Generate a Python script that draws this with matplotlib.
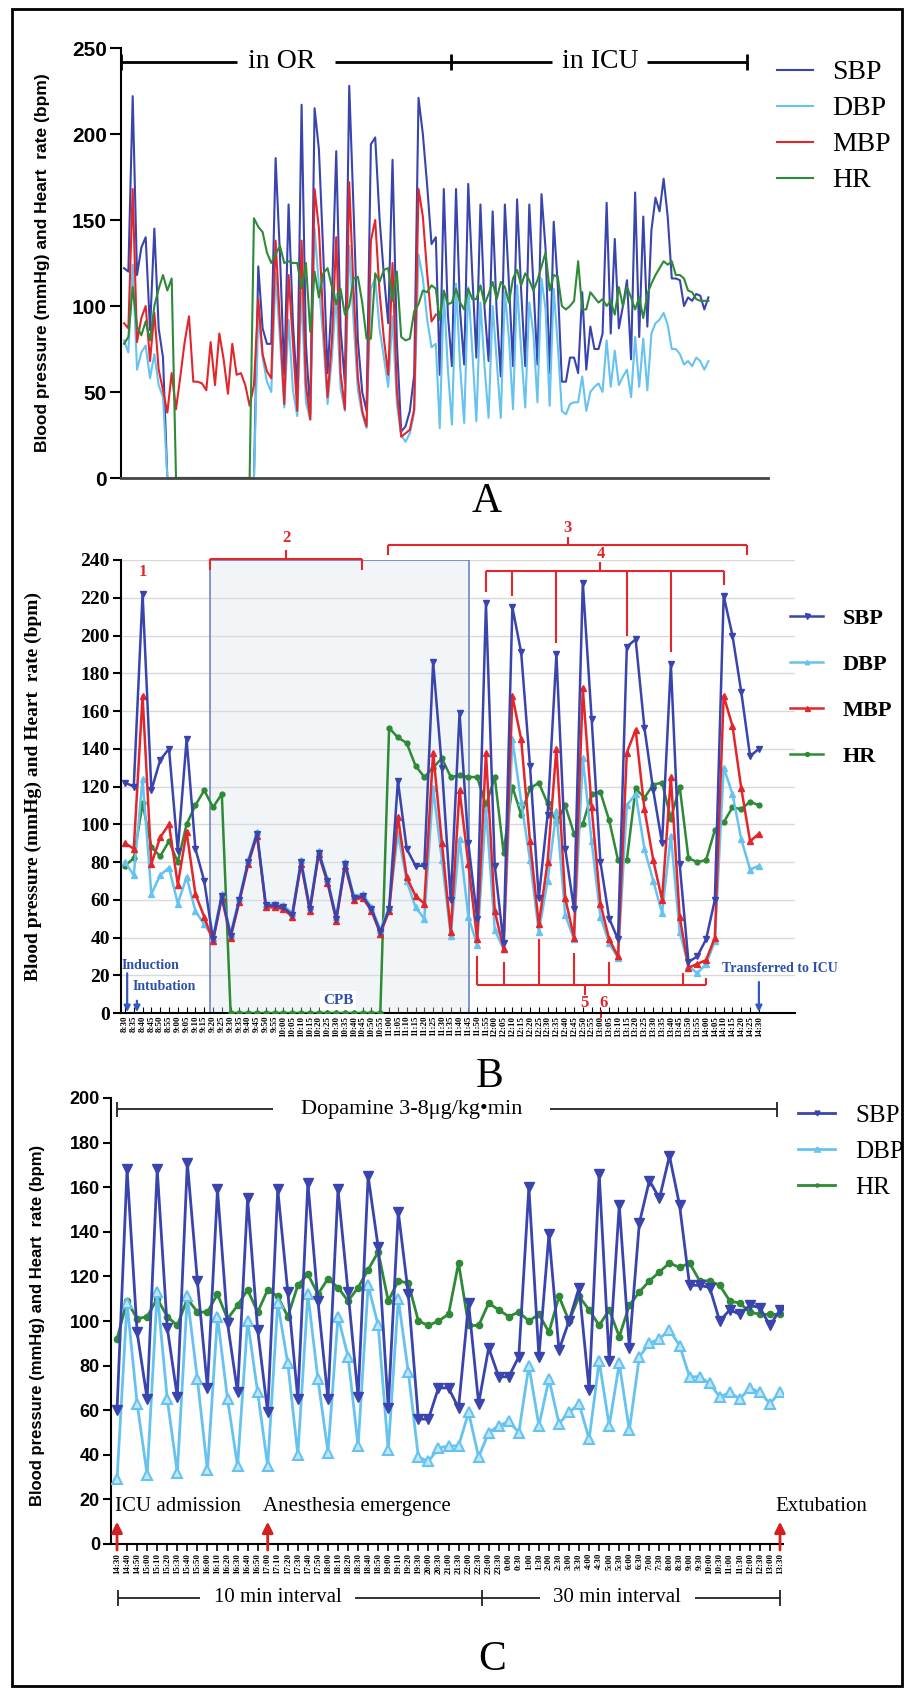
import numpy as np
import matplotlib
matplotlib.use('Agg')
import matplotlib.pyplot as plt
from matplotlib.patches import Rectangle

SERIF = 'Liberation Serif'
SANS = 'Liberation Sans'

C_SBP = '#3a44ad'
C_DBP = '#66c3ef'
C_MBP = '#e3262b'
C_HR = '#2e8a36'
C_NOTE = '#2d50a8'

# ---- panel B: in the operating room, every 5 min from 8:30 to 14:30
times_B = ['%d:%02d' % divmod(m, 60) for m in range(8 * 60 + 30, 14 * 60 + 31, 5)]
sbp_B = [122, 120, 222, 118, 134, 140, 86, 145, 87, 70,
         39, 62, 41, 60, 80, 95, 57, 57, 56, 52,
         80, 55, 85, 70, 50, 79, 61, 62, 55, 43,
         55, 123, 87, 78, 78, 186, 130, 60, 159, 90,
         50, 217, 78, 37, 215, 191, 131, 61, 105, 190,
         87, 55, 228, 156, 80, 50, 39, 194, 198, 151,
         118, 90, 185, 79, 27, 30, 39, 60, 221, 200,
         170, 136, 140]
mbp_B = [90, 87, 168, 79, 93, 100, 68, 96, 63, 51,
         38, 61, 40, 59, 79, 94, 56, 56, 55, 51,
         79, 54, 84, 69, 49, 78, 60, 61, 54, 42,
         54, 104, 72, 62, 58, 138, 90, 43, 118, 79,
         39, 138, 54, 34, 168, 145, 91, 47, 80, 140,
         61, 40, 172, 109, 58, 39, 30, 138, 150, 108,
         81, 60, 125, 51, 24, 26, 28, 40, 168, 152,
         119, 91, 95]
dbp_B = [80, 73, 124, 63, 73, 77, 58, 72, 54, 47,
         40, 63, 42, 61, 81, 96, 58, 58, 57, 53,
         81, 56, 86, 71, 51, 80, 62, 63, 56, 44,
         56, 95, 70, 56, 50, 119, 81, 41, 92, 51,
         36, 108, 44, 34, 145, 112, 81, 43, 70, 107,
         52, 39, 135, 91, 51, 37, 29, 110, 116, 87,
         70, 53, 94, 43, 25, 21, 26, 38, 130, 116,
         92, 76, 78]
hr_B = [78, 82, 111, 88, 83, 91, 80, 100, 110, 118,
        109, 116, 0, 0, 0, 0, 0, 0, 0, 0,
        0, 0, 0, 0, 0, 0, 0, 0, 0, 0,
        151, 146, 143, 131, 125, 130, 135, 125, 126, 125,
        125, 110, 125, 85, 120, 105, 119, 122, 111, 101,
        110, 95, 100, 116, 117, 102, 81, 81, 119, 114,
        121, 122, 103, 120, 82, 80, 81, 97, 101, 109,
        108, 112, 110]

# ---- panel C: in the ICU, 10 min then 30 min intervals
times_C = (['%d:%02d' % divmod(m, 60) for m in range(14 * 60 + 30, 19 * 60 + 31, 10)] +
           ['%d:%02d' % divmod(m % 1440, 60) for m in range(20 * 60, 37 * 60 + 31, 30)])
sbp_C = [60, 168, 95, 65, 168, 97, 66, 171, 118, 70,
         159, 99, 68, 155, 96, 59, 159, 113, 65, 162,
         109, 65, 159, 113, 66, 165, 133, 61, 149, 112,
         56, 56, 70, 70, 61, 108, 63, 88, 75, 75,
         84, 160, 84, 139, 87, 100, 115, 69, 166, 82,
         152, 88, 144, 163, 155, 174, 152, 116, 116, 115,
         100, 105, 103, 107, 106, 98, 105]
dbp_C = [29, 108, 63, 31, 113, 65, 32, 111, 74, 33,
         102, 65, 35, 100, 68, 35, 108, 81, 40, 112,
         74, 41, 102, 84, 44, 116, 98, 42, 110, 77,
         39, 37, 43, 44, 44, 59, 39, 50, 53, 55,
         50, 80, 53, 74, 54, 59, 63, 47, 82, 53,
         81, 51, 84, 90, 92, 96, 89, 75, 75, 72,
         66, 68, 65, 70, 68, 63, 68]
hr_C = [92, 109, 101, 102, 110, 102, 98, 110, 104, 104,
        112, 101, 107, 114, 104, 114, 111, 102, 116, 121,
        112, 119, 115, 109, 115, 123, 131, 109, 118, 117,
        100, 98, 100, 103, 126, 98, 98, 108, 105, 102,
        104, 100, 103, 95, 111, 100, 111, 105, 98, 105,
        93, 107, 113, 118, 122, 126, 124, 126, 118, 118,
        116, 109, 108, 104, 103, 103, 103]

# ---- panel A: whole course; SBP/DBP read 0 on bypass (non-pulsatile)
cpb = slice(10, 31)
sbp_or = np.array(sbp_B, float)
sbp_or[cpb] = 0
dbp_or = np.array(dbp_B, float)
dbp_or[cpb] = 0
sbp_A = np.concatenate([sbp_or, sbp_C])
dbp_A = np.concatenate([dbp_or, dbp_C])
mbp_A = np.concatenate([mbp_B, np.full(len(sbp_C), np.nan)])
hr_A = np.concatenate([hr_B, hr_C])
icu_step = 0.94   # ICU samples sit a little closer together in panel A
xA = np.concatenate([np.arange(len(sbp_B)), len(sbp_B) - 0.1 + icu_step * np.arange(len(sbp_C))])


def bold_ticks(ax, family, size, which='y'):
    labels = ax.get_yticklabels() if which == 'y' else ax.get_xticklabels()
    for t in labels:
        t.set_fontfamily(family)
        t.set_fontweight('bold')
        t.set_fontsize(size)


def seg(ax, x0, x1, y0, y1, color='black', lw=1.5):
    ax.plot([x0, x1], [y0, y1], color=color, lw=lw, clip_on=False, solid_capstyle='butt')


W, H = 907, 1689
fig = plt.figure(figsize=(W / 100, H / 100), dpi=100)
fig.add_artist(Rectangle((12 / W, 1 - 1686 / H), 890 / W, 1677 / H, transform=fig.transFigure,
                         fill=False, lw=2, ec='black'))

# =================== A ===================
axA = fig.add_axes([121 / W, 1 - 478 / H, 647 / W, 430 / H])
axA.plot(xA, sbp_A, color=C_SBP, lw=1.5, label='SBP')
axA.plot(xA, dbp_A, color=C_DBP, lw=1.5, label='DBP')
axA.plot(xA, mbp_A, color=C_MBP, lw=1.5, label='MBP')
axA.plot(xA, hr_A, color=C_HR, lw=1.5, label='HR')
axA.set_xlim(-0.7, 148.7)
axA.set_ylim(0, 250)
axA.set_yticks(range(0, 251, 50))
axA.set_xticks([])
for s in ['top', 'right']:
    axA.spines[s].set_visible(False)
axA.spines['left'].set_linewidth(1.5)
axA.spines['bottom'].set_linewidth(2)
axA.spines['bottom'].set_color('#444444')
axA.tick_params(axis='y', length=8, width=1.5, pad=2)
bold_ticks(axA, SANS, 15)
axA.set_ylabel('Blood pressure (mmHg) and Heart  rate (bpm)', fontfamily=SANS,
               fontweight='bold', fontsize=12.5)
axA.yaxis.set_label_coords(-0.11, 0.5)
axA.legend(loc='upper left', bbox_to_anchor=(777 / W, 1 - 60 / H), bbox_transform=fig.transFigure,
           frameon=False, prop={'family': SERIF, 'size': 20}, handlelength=1.3,
           handletextpad=0.68, labelspacing=0.38, borderpad=0, borderaxespad=0)
# in OR / in ICU bar
yb, d = 242, 4.6
for x0, x1 in [(-0.7, 26.1), (48.7, 98.8), (120.8, 143.9)]:
    seg(axA, x0, x1, yb, yb, lw=2)
for xt in [-0.7, 75.5, 143.9]:
    seg(axA, xt, xt, yb - d, yb + d, lw=2)
axA.text(36.5, yb, 'in OR', family=SERIF, fontsize=20, ha='center', va='center')
axA.text(109.9, yb, 'in ICU', family=SERIF, fontsize=20, ha='center', va='center')
fig.text(487 / W, 1 - 502 / H, 'A', family=SERIF, fontsize=30, ha='center', va='center')

# =================== B ===================
axB = fig.add_axes([121 / W, 1 - 1013 / H, 674 / W, 453 / H])
xB = np.arange(len(sbp_B))
axB.yaxis.grid(True, color='#d9d9d9', lw=1)
axB.set_axisbelow(True)
axB.add_patch(Rectangle((9.66, 0), 39.1 - 9.66, 240, facecolor=(0.86, 0.89, 0.93, 0.35),
                        edgecolor='#6f86c2', lw=1.2, zorder=1))
axB.plot(xB, hr_B, color=C_HR, lw=1.8, marker='o', ms=3.5, label='HR', zorder=3)
axB.plot(xB, dbp_B, color=C_DBP, lw=1.8, marker='^', ms=4, label='DBP', zorder=4)
axB.plot(xB, mbp_B, color=C_MBP, lw=1.8, marker='^', ms=4.5, label='MBP', zorder=5)
axB.plot(xB, sbp_B, color=C_SBP, lw=1.8, marker='v', ms=4.5, label='SBP', zorder=6)
axB.set_xlim(-0.45, 76.1)
axB.set_ylim(0, 240)
axB.set_yticks(range(0, 241, 20))
axB.set_xticks(xB)
axB.set_xticklabels(times_B, rotation=90)
bold_ticks(axB, SERIF, 6.5, 'x')
bold_ticks(axB, SERIF, 14)
axB.tick_params(axis='x', direction='in', length=4, pad=2)
axB.tick_params(axis='y', length=6, width=1.5, pad=2)
for s in ['top', 'right']:
    axB.spines[s].set_visible(False)
axB.spines['left'].set_linewidth(1.5)
axB.spines['bottom'].set_linewidth(1.5)
axB.set_ylabel('Blood pressure (mmHg) and Heart  rate (bpm)', fontfamily=SERIF,
               fontweight='bold', fontsize=14)
axB.yaxis.set_label_coords(-0.117, 0.5)
hB, lB = axB.get_legend_handles_labels()
order = [3, 1, 2, 0]
axB.legend([hB[i] for i in order], [lB[i] for i in order], loc='upper left',
           bbox_to_anchor=(790 / W, 1 - 608 / H), bbox_transform=fig.transFigure,
           frameon=False, prop={'family': SERIF, 'size': 16, 'weight': 'bold'},
           handlelength=1.5, handletextpad=0.86, labelspacing=1.15, borderpad=0,
           borderaxespad=0, numpoints=1, markerscale=0.8)

red = dict(color=C_MBP, lw=1.5)
rtxt = dict(family=SERIF, fontsize=12, fontweight='bold', color=C_MBP, ha='center', va='center')
axB.text(2.05, 233.6, '1', **rtxt)
# bracket 2 (bypass)
seg(axB, 9.66, 26.9, 240.5, 240.5, **red)
seg(axB, 9.66, 9.66, 240.5, 234.7, **red)
seg(axB, 26.9, 26.9, 240.5, 234.7, **red)
seg(axB, 18.3, 18.3, 240.5, 245.3, **red)
axB.text(18.3, 251.6, '2', **rtxt)
# bracket 3
seg(axB, 29.9, 70.7, 248, 248, **red)
seg(axB, 29.9, 29.9, 248, 242.6, **red)
seg(axB, 70.7, 70.7, 248, 242.6, **red)
seg(axB, 50.3, 50.3, 248, 252, **red)
axB.text(50.3, 257, '3', **rtxt)
# bracket 4: hypertensive peaks
peaks = [41, 44, 49, 52, 57, 62, 68]
seg(axB, peaks[0], peaks[-1], 234.2, 234.2, **red)
for p in peaks:
    seg(axB, p, p, 234.2, sbp_B[p] + 6, **red)
seg(axB, 54, 54, 234.2, 239, **red)
axB.text(54, 243, '4', **rtxt)
# bracket 5: hypotensive troughs
troughs = [(40, 30), (43, 27), (47, 39), (51, 32), (55, 27), (63.4, 21), (66, 18.5)]
seg(axB, troughs[0][0], troughs[-1][0], 14.8, 14.8, **red)
for p, top in troughs:
    seg(axB, p, p, 14.8, top, **red)
seg(axB, 52.2, 52.2, 14.8, 9.5, **red)
axB.text(52.2, 5.5, '5', **rtxt)
axB.text(54.4, 5.5, '6', **rtxt)
seg(axB, 54.1, 54.1, 1.5, -2.6, **red)

ntxt = dict(family=SERIF, fontweight='bold', color=C_NOTE, fontsize=10)
axB.text(24.2, 6.5, 'CPB', ha='center', va='center', fontsize=11, family=SERIF,
         fontweight='bold', color=C_NOTE,
         bbox=dict(facecolor='white', edgecolor='none', pad=2))
axB.text(-0.34, 25.4, 'Induction', ha='left', va='center', **ntxt)
axB.text(0.9, 13.8, 'Intubation', ha='left', va='center', **ntxt)
axB.text(74.4, 23.8, 'Transferred to ICU', ha='center', va='center', **ntxt)
arr = dict(arrowstyle='-|>', color='#3358c4', lw=1.6, mutation_scale=9, shrinkA=0, shrinkB=0)
axB.annotate('', xy=(0.25, 0.5), xytext=(0.25, 21), arrowprops=arr)
axB.annotate('', xy=(1.36, 0.5), xytext=(1.36, 6.5), arrowprops=arr)
axB.annotate('', xy=(72, 0.5), xytext=(72, 16.4), arrowprops=arr)
fig.text(490 / W, 1 - 1077 / H, 'B', family=SERIF, fontsize=30, ha='center', va='center')

# =================== C ===================
axC = fig.add_axes([111 / W, 1 - 1544 / H, 672 / W, 446 / H])
xC = np.arange(len(sbp_C))
axC.plot(xC, hr_C, color=C_HR, lw=2, marker='o', ms=4.5, label='HR', zorder=3)
axC.plot(xC, dbp_C, color=C_DBP, lw=2, marker='^', ms=6.5, mfc='#bfe6fa', mec=C_DBP,
         mew=1.5, label='DBP', zorder=4)
axC.plot(xC, sbp_C, color=C_SBP, lw=2, marker='v', ms=7, label='SBP', zorder=5)
axC.set_xlim(-0.6, 66.3)
axC.set_ylim(0, 200)
axC.set_yticks(range(0, 201, 20))
axC.set_xticks(xC)
axC.set_xticklabels(times_C, rotation=90)
bold_ticks(axC, SERIF, 6.5, 'x')
bold_ticks(axC, SANS, 13)
axC.tick_params(axis='x', length=5, width=1.2, pad=1.5)
axC.tick_params(axis='y', length=6, width=1.5, pad=2)
for s in ['top', 'right']:
    axC.spines[s].set_visible(False)
axC.spines['left'].set_linewidth(1.5)
axC.spines['bottom'].set_linewidth(1.5)
axC.set_ylabel('Blood pressure (mmHg) and Heart  rate (bpm)', fontfamily=SANS,
               fontweight='bold', fontsize=12)
axC.yaxis.set_label_coords(-0.098, 0.49)
hC, lC = axC.get_legend_handles_labels()
axC.legend([hC[2], hC[1], hC[0]], [lC[2], lC[1], lC[0]], loc='upper left',
           bbox_to_anchor=(798 / W, 1 - 1104 / H), bbox_transform=fig.transFigure,
           frameon=False, prop={'family': SERIF, 'size': 18}, handlelength=1.48,
           handletextpad=0.8, labelspacing=0.55, borderpad=0, borderaxespad=0,
           numpoints=1, markerscale=0.5)

k = dict(color='#222222', lw=1.3)
yd = 195
seg(axC, 0, 15.5, yd, yd, **k)
seg(axC, 0, 0, yd - 3.4, yd + 3.4, **k)
seg(axC, 43.1, 65.7, yd, yd, **k)
seg(axC, 65.7, 65.7, yd - 3.4, yd + 3.4, **k)
axC.text(29.3, yd, 'Dopamine 3-8\u03bcg/kg\u2022min', family=SERIF, fontsize=16,
         ha='center', va='center')
ctxt = dict(family=SERIF, fontsize=15, ha='left', va='center')
axC.text(-0.2, 16.6, 'ICU admission', **ctxt)
axC.text(14.5, 16.6, 'Anesthesia emergence', **ctxt)
axC.text(65.5, 16.6, 'Extubation', **ctxt)
rarr = dict(arrowstyle='-|>', color='#d42020', lw=2, mutation_scale=16, shrinkA=0, shrinkB=0)
for xi in [0, 15, 66]:
    axC.annotate('', xy=(xi, 10), xytext=(xi, -2.7), arrowprops=rarr, annotation_clip=False)
yi = -24.2
seg(axC, 0.1, 8.3, yi, yi, **k)
seg(axC, 0.1, 0.1, yi - 3.4, yi + 3.4, **k)
seg(axC, 23.7, 42.1, yi, yi, **k)
seg(axC, 36.3, 36.3, yi - 3.4, yi + 3.4, **k)
seg(axC, 57.5, 66, yi, yi, **k)
seg(axC, 66, 66, yi - 3.4, yi + 3.4, **k)
axC.text(16, yi, '10 min interval', family=SERIF, fontsize=15, ha='center', va='center')
axC.text(49.75, yi, '30 min interval', family=SERIF, fontsize=15, ha='center', va='center')
fig.text(492 / W, 1 - 1660 / H, 'C', family=SERIF, fontsize=30, ha='center', va='center')

fig.savefig('out.png', dpi=100)
